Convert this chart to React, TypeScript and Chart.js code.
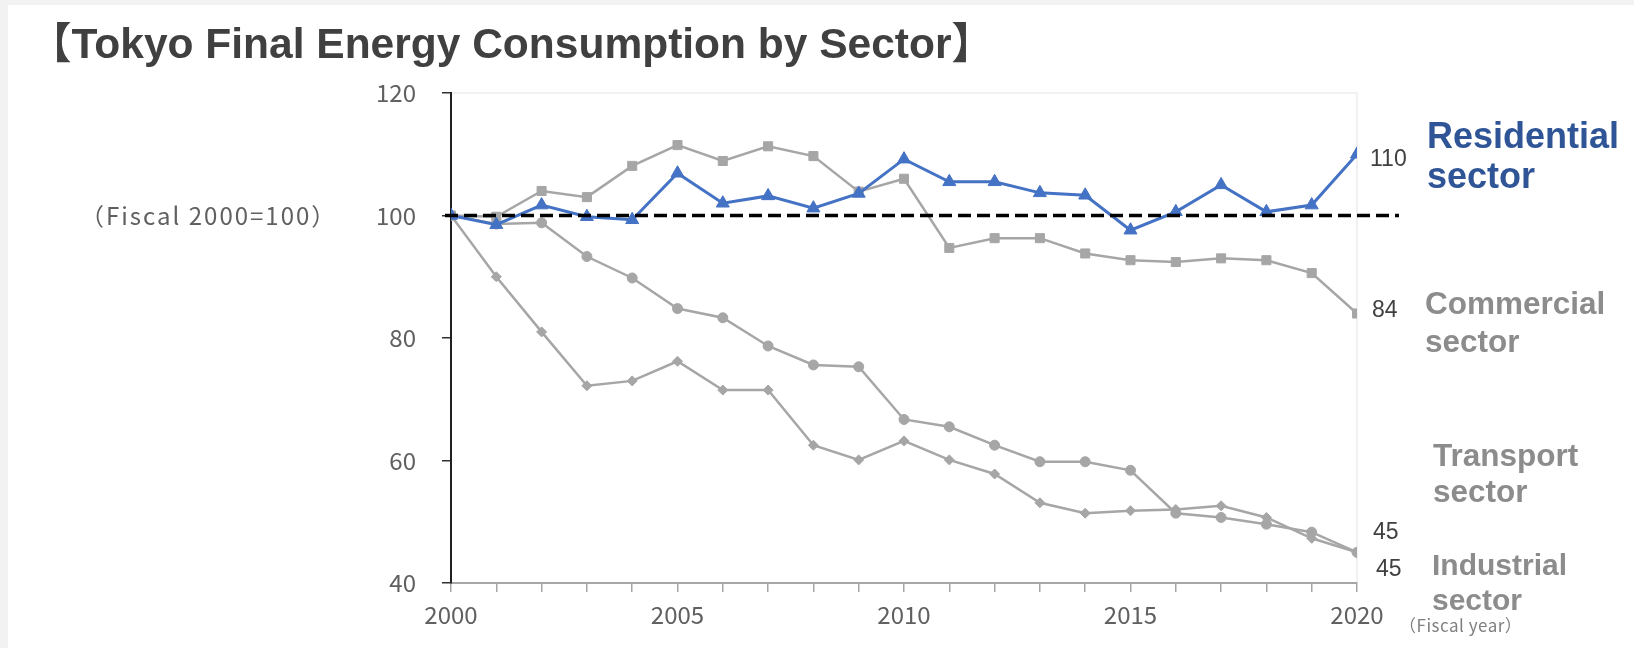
import React, { useEffect, useRef } from 'react';
import { Chart, registerables } from 'chart.js';

Chart.register(...registerables);

// Fiscal years on the horizontal axis
const years = [2000, 2001, 2002, 2003, 2004, 2005, 2006, 2007, 2008, 2009, 2010, 2011, 2012, 2013, 2014, 2015, 2016, 2017, 2018, 2019, 2020];

// Index values, fiscal 2000 = 100
const residential = [100, 98.5, 101.7, 99.8, 99.3, 106.9, 102.0, 103.2, 101.2, 103.6, 109.2, 105.5, 105.5, 103.7, 103.3, 97.6, 100.6, 105.0, 100.6, 101.7, 110];
const commercial = [100, 99.8, 104.0, 103.0, 108.1, 111.5, 108.9, 111.3, 109.7, 103.9, 106.0, 94.7, 96.3, 96.3, 93.8, 92.7, 92.4, 93.0, 92.7, 90.6, 84];
const transport = [100, 98.6, 98.8, 93.3, 89.8, 84.8, 83.3, 78.7, 75.6, 75.3, 66.7, 65.5, 62.5, 59.8, 59.8, 58.4, 51.4, 50.7, 49.6, 48.3, 45];
const industrial = [100, 90.0, 81.0, 72.2, 73.0, 76.2, 71.5, 71.5, 62.5, 60.1, 63.2, 60.1, 57.8, 53.1, 51.4, 51.8, 52.0, 52.6, 50.7, 47.3, 45];

const sectorNames = ['Residential', 'Commercial', 'Transport', 'Industrial'];
const sectorWord = 'sector';
const labeledYears = [2000, 2005, 2010, 2015, 2020];
const yMin = 40;
const yMax = 120;
const yStep = 20;
const baseValue = 100;

const titleText = '【Tokyo Final Energy Consumption by Sector】';
const baseNote = '（Fiscal 2000=100）';
const xUnitNote = '（Fiscal year）';

const BLUE = '#4472C4';
const GRAY = '#A6A6A6';
const TEXT_DARK = '#404040';
const TEXT_TICK = '#606060';

const tickFont = '"Noto Sans CJK JP", "Noto Sans", sans-serif';
const latinFont = '"Liberation Sans", Arial, "Noto Sans CJK JP", sans-serif';

const toPoints = (vals: number[]) => vals.map((v, i) => ({ x: years[i], y: v }));

// Per-series styling for the end-of-line value and the sector caption
const annotations = [
  { data: residential, valueDx: 13, valueDy: 5, capX: 1427, capY: 138, capSize: 36, capGap: 40, capColor: '#2F5597' },
  { data: commercial, valueDx: 15, valueDy: -3, capX: 1425, capY: 305, capSize: 31.5, capGap: 38, capColor: '#8C8C8C' },
  { data: transport, valueDx: 16, valueDy: -20, capX: 1433, capY: 457, capSize: 31.5, capGap: 36, capColor: '#8C8C8C' },
  { data: industrial, valueDx: 19, valueDy: 17, capX: 1432, capY: 567, capSize: 30, capGap: 35, capColor: '#8C8C8C' },
];

const overlay = {
  id: 'overlay',
  beforeDraw(chart: any) {
    const { ctx, width, height, chartArea } = chart;
    ctx.save();
    ctx.fillStyle = '#F2F2F2';
    ctx.fillRect(0, 0, width, height);
    ctx.fillStyle = '#FFFFFF';
    ctx.fillRect(8, 5, width - 8, height - 5);
    // faint plot-area frame
    ctx.strokeStyle = '#EDEDED';
    ctx.lineWidth = 1.5;
    ctx.beginPath();
    ctx.moveTo(chartArea.left, chartArea.top);
    ctx.lineTo(chartArea.right, chartArea.top);
    ctx.lineTo(chartArea.right, chartArea.bottom);
    ctx.stroke();
    ctx.restore();
  },
  afterDatasetsDraw(chart: any) {
    const { ctx, chartArea, scales } = chart;
    const xs = scales.x;
    const ys = scales.y;
    ctx.save();

    // dashed reference line at the base year level
    const yBase = ys.getPixelForValue(baseValue);
    ctx.strokeStyle = '#000000';
    ctx.lineWidth = 3.5;
    ctx.setLineDash([13, 6]);
    ctx.beginPath();
    ctx.moveTo(chartArea.left - 6, yBase);
    ctx.lineTo(chartArea.right + 42, yBase);
    ctx.stroke();
    ctx.setLineDash([]);

    // values at the last year
    ctx.fillStyle = TEXT_DARK;
    ctx.font = `23px ${latinFont}`;
    ctx.textAlign = 'left';
    ctx.textBaseline = 'middle';
    annotations.forEach((a) => {
      const last = a.data[a.data.length - 1];
      const px = xs.getPixelForValue(years[years.length - 1]);
      const py = ys.getPixelForValue(last);
      ctx.fillText(String(Math.round(last)), px + a.valueDx, py + a.valueDy);
    });

    // sector captions
    annotations.forEach((a, i) => {
      ctx.fillStyle = a.capColor;
      ctx.font = `bold ${a.capSize}px ${latinFont}`;
      ctx.fillText(sectorNames[i], a.capX, a.capY);
      ctx.fillText(sectorWord, a.capX, a.capY + a.capGap);
    });

    // title
    ctx.fillStyle = TEXT_DARK;
    ctx.font = `bold 42.5px ${latinFont}`;
    ctx.textBaseline = 'alphabetic';
    ctx.fillText(titleText, 29, 58);

    // unit notes
    ctx.fillStyle = TEXT_TICK;
    ctx.font = `24px ${tickFont}`;
    ctx.textBaseline = 'middle';
    (ctx as any).letterSpacing = '2px';
    ctx.fillText(baseNote, 80, yBase);
    (ctx as any).letterSpacing = '0.5px';
    ctx.fillStyle = '#7F7F7F';
    ctx.font = `17px ${tickFont}`;
    ctx.fillText(xUnitNote, 1399, 626);
    (ctx as any).letterSpacing = '0px';

    ctx.restore();
  },
};

export default function App() {
  const canvasRef = useRef<HTMLCanvasElement | null>(null);

  useEffect(() => {
    const canvas = canvasRef.current;
    if (!canvas) return;
    const grayLine = {
      borderColor: GRAY,
      backgroundColor: GRAY,
      pointBackgroundColor: GRAY,
      pointBorderColor: GRAY,
      borderWidth: 2.5,
      pointBorderWidth: 1,
    };
    const chart = new Chart(canvas, {
      type: 'line',
      data: {
        datasets: [
          {
            label: sectorNames[0],
            data: toPoints(residential),
            borderColor: BLUE,
            backgroundColor: BLUE,
            pointBackgroundColor: BLUE,
            pointBorderColor: BLUE,
            borderWidth: 3,
            pointStyle: 'triangle',
            pointRadius: 7.5,
            pointBorderWidth: 1,
          },
          { label: sectorNames[1], data: toPoints(commercial), ...grayLine, pointStyle: 'rect', pointRadius: 6.4 },
          { label: sectorNames[2], data: toPoints(transport), ...grayLine, pointStyle: 'circle', pointRadius: 5 },
          { label: sectorNames[3], data: toPoints(industrial), ...grayLine, pointStyle: 'rectRot', pointRadius: 5 },
        ],
      },
      options: {
        animation: false,
        responsive: false,
        events: [],
        layout: { padding: { top: 93, right: 277, bottom: 0, left: 0 } },
        plugins: { legend: { display: false }, tooltip: { enabled: false }, title: { display: false } },
        scales: {
          x: {
            type: 'linear',
            min: years[0],
            max: years[years.length - 1],
            afterFit: (s: any) => { s.height = 65; },
            afterBuildTicks: (s: any) => { s.ticks = years.map((v) => ({ value: v })); },
            ticks: {
              autoSkip: false,
              maxRotation: 0,
              padding: 8,
              color: TEXT_TICK,
              font: { family: tickFont, size: 24 },
              callback: (v: any) => (labeledYears.includes(Number(v)) ? String(v) : ''),
            },
            grid: { drawOnChartArea: false, drawTicks: true, tickLength: 9, color: GRAY, lineWidth: 1.5 },
            border: { color: GRAY, width: 2 },
          },
          y: {
            min: yMin,
            max: yMax,
            afterFit: (s: any) => { s.width = 451; },
            ticks: {
              stepSize: yStep,
              padding: 26,
              color: TEXT_TICK,
              font: { family: tickFont, size: 24 },
            },
            grid: { drawOnChartArea: false, drawTicks: true, tickLength: 9, color: '#303030', lineWidth: 1.5 },
            border: { color: '#202020', width: 2 },
          },
        },
      },
      plugins: [overlay],
    } as any);
    return () => chart.destroy();
  }, []);

  return (
    <div style={{ position: 'fixed', left: 0, top: 0, width: 1634, height: 648, background: '#F2F2F2' }}>
      <canvas ref={canvasRef} width={1634} height={648} style={{ display: 'block', width: 1634, height: 648 }} />
    </div>
  );
}
